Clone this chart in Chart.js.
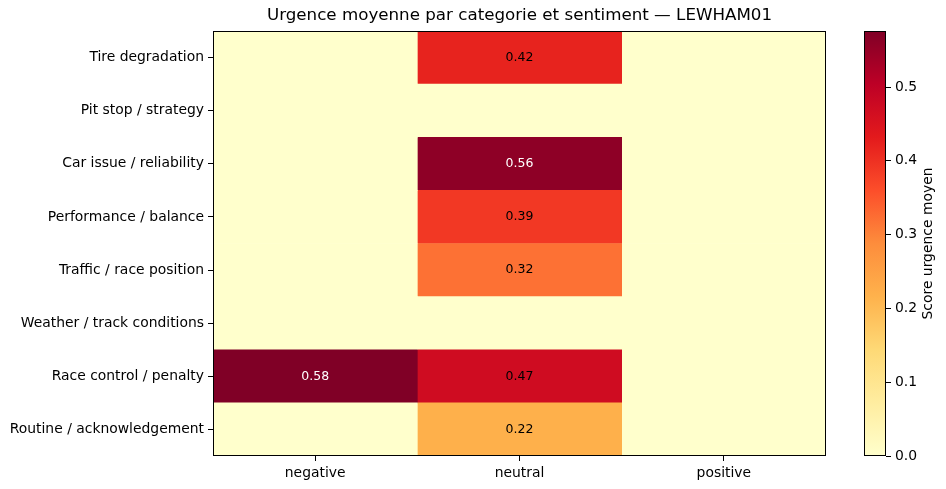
<!DOCTYPE html>
<html>
<head>
<meta charset="utf-8">
<script src="https://cdn.jsdelivr.net/npm/chart.js@4/dist/chart.umd.min.js"></script>
<style>
  body { margin: 0; background: #fff; }
  #wrap { position: relative; width: 946px; height: 489px; overflow: hidden; }
  #heat { position: absolute; left: 0; top: 0; }
  #cbar { position: absolute; left: 840px; top: 0; }
</style>
</head>
<body>
<div id="wrap">
  <canvas id="heat" width="840" height="489"></canvas>
  <canvas id="cbar" width="106" height="489"></canvas>
</div>
<script>
var categories = [
  'Tire degradation',
  'Pit stop / strategy',
  'Car issue / reliability',
  'Performance / balance',
  'Traffic / race position',
  'Weather / track conditions',
  'Race control / penalty',
  'Routine / acknowledgement'
];
var sentiments = ['negative', 'neutral', 'positive'];

// mean urgency score per category, one array per sentiment column
var negative = [0, 0, 0, 0, 0, 0, 0.576, 0];
var neutral  = [0.42, 0, 0.56, 0.39, 0.32, 0, 0.47, 0.22];
var positive = [0, 0, 0, 0, 0, 0, 0, 0];

var colorbarTicks = [0, 0.1, 0.2, 0.3, 0.4, 0.5];
var vmax = 0.576;

var title = 'Urgence moyenne par categorie et sentiment \u2014 LEWHAM01';
var cbarLabel = 'Score urgence moyen';

// YlOrRd colour map
var ylorrd = ['#ffffcc','#ffeda0','#fed976','#feb24c','#fd8d3c','#fc4e2a','#e31a1c','#bd0026','#800026'];

function hex(c) {
  return [parseInt(c.substr(1,2),16), parseInt(c.substr(3,2),16), parseInt(c.substr(5,2),16)];
}
function cmap(v) {
  var t = Math.max(0, Math.min(1, v / vmax)) * (ylorrd.length - 1);
  var i = Math.min(Math.floor(t), ylorrd.length - 2);
  var f = t - i;
  var a = hex(ylorrd[i]), b = hex(ylorrd[i+1]);
  var r = a.map(function(x, k){ return Math.round(x + (b[k] - x) * f); });
  return 'rgb(' + r.join(',') + ')';
}

var font = "'DejaVu Sans', sans-serif";
var columns = [negative, neutral, positive];

var datasets = columns.map(function(col, j) {
  return {
    label: sentiments[j],
    data: col.map(function(){ return [j, j + 1]; }),
    values: col,
    backgroundColor: col.map(cmap),
    borderWidth: 0,
    borderSkipped: false,
    barPercentage: 1,
    categoryPercentage: 1,
    grouped: false
  };
});

var frame = {
  id: 'frame',
  afterDraw: function(chart) {
    var a = chart.chartArea, ctx = chart.ctx;
    ctx.save();
    ctx.strokeStyle = '#000';
    ctx.lineWidth = 1;
    ctx.strokeRect(Math.round(a.left) + 0.5, Math.round(a.top) + 0.5,
                   Math.round(a.right - a.left) - 1, Math.round(a.bottom - a.top) - 1);
    ctx.restore();
  }
};

var cellLabels = {
  id: 'cellLabels',
  afterDatasetsDraw: function(chart) {
    var ctx = chart.ctx;
    ctx.save();
    ctx.font = '12.5px ' + font;
    ctx.textAlign = 'center';
    ctx.textBaseline = 'middle';
    chart.data.datasets.forEach(function(ds, j) {
      chart.getDatasetMeta(j).data.forEach(function(el, i) {
        var v = ds.values[i];
        if (!v) return;
        ctx.fillStyle = v > 0.5 ? '#fff' : '#000';
        ctx.fillText(v.toFixed(2), (el.x + el.base) / 2, el.y);
      });
    });
    ctx.restore();
  }
};

new Chart(document.getElementById('heat'), {
  type: 'bar',
  data: { labels: categories, datasets: datasets },
  options: {
    indexAxis: 'y',
    responsive: false,
    animation: false,
    layout: { padding: { left: 0, right: 14, top: 0, bottom: 0 } },
    plugins: {
      legend: { display: false },
      tooltip: { enabled: false },
      title: {
        display: true,
        text: title,
        fullSize: false,
        color: '#000',
        font: { family: font, size: 16.7, weight: 'normal' },
        padding: { top: 6, bottom: 5 }
      }
    },
    scales: {
      x: {
        type: 'linear',
        min: 0, max: 3,
        afterBuildTicks: function(s) {
          s.ticks = sentiments.map(function(_, j){ return { value: j + 0.5 }; });
        },
        afterFit: function(s) { s.height = 33; },
        ticks: {
          color: '#000',
          padding: 4,
          font: { family: font, size: 13.9 },
          callback: function(v) { return sentiments[Math.round(v - 0.5)]; }
        },
        grid: { drawOnChartArea: false, drawTicks: true, tickLength: 5, color: '#000' },
        border: { display: false }
      },
      y: {
        offset: true,
        afterFit: function(s) { s.width = 213; },
        ticks: { color: '#000', padding: 4, font: { family: font, size: 13.9 } },
        grid: { offset: false, drawOnChartArea: false, drawTicks: true, tickLength: 5, color: '#000' },
        border: { display: false }
      }
    }
  },
  plugins: [cellLabels, frame]
});

// colour bar
var cbarTitle = {
  id: 'cbarTitle',
  afterDraw: function(chart) {
    var a = chart.chartArea, ctx = chart.ctx;
    ctx.save();
    ctx.translate(88, (a.top + a.bottom) / 2);
    ctx.rotate(-Math.PI / 2);
    ctx.font = '13.9px ' + font;
    ctx.fillStyle = '#000';
    ctx.textAlign = 'center';
    ctx.textBaseline = 'middle';
    ctx.fillText(cbarLabel, 0, 0);
    ctx.restore();
  }
};

new Chart(document.getElementById('cbar'), {
  type: 'bar',
  data: {
    labels: [''],
    datasets: [{
      data: [[0, vmax]],
      borderWidth: 0,
      barPercentage: 1,
      categoryPercentage: 1,
      backgroundColor: function(c) {
        var a = c.chart.chartArea;
        if (!a) return ylorrd[0];
        var g = c.chart.ctx.createLinearGradient(0, a.bottom, 0, a.top);
        ylorrd.forEach(function(col, k){ g.addColorStop(k / (ylorrd.length - 1), col); });
        return g;
      }
    }]
  },
  options: {
    responsive: false,
    animation: false,
    layout: { padding: { left: 24, right: 0, top: 31, bottom: 33 } },
    plugins: { legend: { display: false }, tooltip: { enabled: false } },
    scales: {
      x: { display: false },
      y: {
        position: 'right',
        min: 0, max: vmax,
        afterBuildTicks: function(s) {
          s.ticks = colorbarTicks.map(function(v){ return { value: v }; });
        },
        afterFit: function(s) { s.width = 60; },
        ticks: {
          color: '#000',
          padding: 4,
          font: { family: font, size: 13.9 },
          callback: function(v) { return v.toFixed(1); }
        },
        grid: { drawOnChartArea: false, drawTicks: true, tickLength: 5, color: '#000' },
        border: { display: false }
      }
    }
  },
  plugins: [frame, cbarTitle]
});
</script>
</body>
</html>
